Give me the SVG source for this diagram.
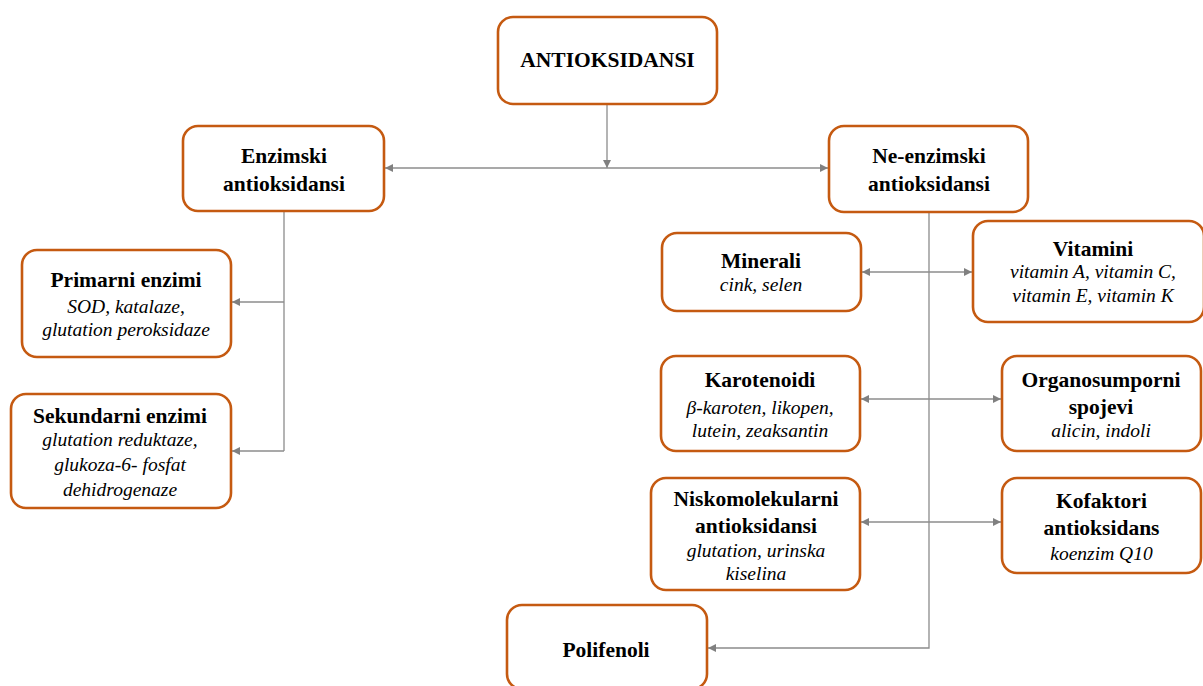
<svg xmlns="http://www.w3.org/2000/svg" width="1203" height="686" viewBox="0 0 1203 686">
<style>
.box{fill:#fff;stroke:#C55A11;stroke-width:2.6}
.b{font-family:"Liberation Serif","Times New Roman",serif;font-weight:bold;font-size:21.5px;fill:#000;text-anchor:middle}
.i{font-family:"Liberation Serif","Times New Roman",serif;font-style:italic;font-size:19.5px;fill:#000;text-anchor:middle}
.c{fill:none;stroke:#8c8c8c;stroke-width:1.3}
</style>
<defs>
<marker id="ah" viewBox="0 0 10 10" refX="10" refY="5" markerWidth="8" markerHeight="8" markerUnits="userSpaceOnUse" orient="auto-start-reverse">
<path d="M0,0 L10,5 L0,10 z" fill="#808080"/>
</marker>
</defs>
<rect width="1203" height="686" fill="#fff"/>
<g id="connectors">
<path class="c" d="M607,104 V168" marker-end="url(#ah)"/>
<path class="c" d="M385,168 H828" marker-start="url(#ah)" marker-end="url(#ah)"/>
<path class="c" d="M284,211 V451"/>
<path class="c" d="M284,302 H232" marker-end="url(#ah)"/>
<path class="c" d="M284,451 H232" marker-end="url(#ah)"/>
<path class="c" d="M929,212 V648 H708" marker-end="url(#ah)"/>
<path class="c" d="M862,272 H972" marker-start="url(#ah)" marker-end="url(#ah)"/>
<path class="c" d="M861,399 H1001" marker-start="url(#ah)" marker-end="url(#ah)"/>
<path class="c" d="M861,522 H1001" marker-start="url(#ah)" marker-end="url(#ah)"/>
</g>
<g id="antioksidansi">
<rect class="box" x="498" y="17" width="219" height="87" rx="15"/>
<text class="b" x="607.5" y="67">ANTIOKSIDANSI</text>
</g>
<g id="enzimski">
<rect class="box" x="183" y="126" width="201" height="85" rx="15"/>
<text class="b" x="284" y="163">Enzimski</text>
<text class="b" x="284" y="191">antioksidansi</text>
</g>
<g id="ne-enzimski">
<rect class="box" x="829" y="126" width="199" height="86" rx="15"/>
<text class="b" x="929" y="163">Ne-enzimski</text>
<text class="b" x="929" y="191">antioksidansi</text>
</g>
<g id="primarni">
<rect class="box" x="22" y="250" width="209" height="107" rx="15"/>
<text class="b" x="126" y="287">Primarni enzimi</text>
<text class="i" x="126" y="313">SOD, katalaze,</text>
<text class="i" x="126" y="336">glutation peroksidaze</text>
</g>
<g id="sekundarni">
<rect class="box" x="11" y="394" width="220" height="114" rx="15"/>
<text class="b" x="120" y="423">Sekundarni enzimi</text>
<text class="i" x="120" y="446">glutation reduktaze,</text>
<text class="i" x="120" y="471">glukoza-6- fosfat</text>
<text class="i" x="120" y="496">dehidrogenaze</text>
</g>
<g id="minerali">
<rect class="box" x="662" y="233" width="199" height="78" rx="15"/>
<text class="b" x="761" y="268">Minerali</text>
<text class="i" x="761" y="291">cink, selen</text>
</g>
<g id="vitamini">
<rect class="box" x="973" y="221" width="231" height="101" rx="15"/>
<text class="b" x="1093" y="256">Vitamini</text>
<text class="i" x="1093" y="278">vitamin A, vitamin C,</text>
<text class="i" x="1093" y="302">vitamin E, vitamin K</text>
</g>
<g id="karotenoidi">
<rect class="box" x="661" y="356" width="199" height="95" rx="15"/>
<text class="b" x="760" y="387">Karotenoidi</text>
<text class="i" x="760" y="414">β-karoten, likopen,</text>
<text class="i" x="760" y="437">lutein, zeaksantin</text>
</g>
<g id="organosumporni">
<rect class="box" x="1002" y="356" width="199" height="95" rx="15"/>
<text class="b" x="1101" y="387">Organosumporni</text>
<text class="b" x="1101" y="414">spojevi</text>
<text class="i" x="1101" y="437">alicin, indoli</text>
</g>
<g id="niskomolekularni">
<rect class="box" x="651" y="478" width="209" height="112" rx="15"/>
<text class="b" x="756" y="506">Niskomolekularni</text>
<text class="b" x="756" y="533">antioksidansi</text>
<text class="i" x="756" y="557">glutation, urinska</text>
<text class="i" x="756" y="580">kiselina</text>
</g>
<g id="kofaktori">
<rect class="box" x="1002" y="478" width="199" height="95" rx="15"/>
<text class="b" x="1101.5" y="508">Kofaktori</text>
<text class="b" x="1101.5" y="535">antioksidans</text>
<text class="i" x="1101.5" y="560">koenzim Q10</text>
</g>
<g id="polifenoli">
<rect class="box" x="507" y="605" width="200" height="84" rx="15"/>
<text class="b" x="606" y="657">Polifenoli</text>
</g>
</svg>
